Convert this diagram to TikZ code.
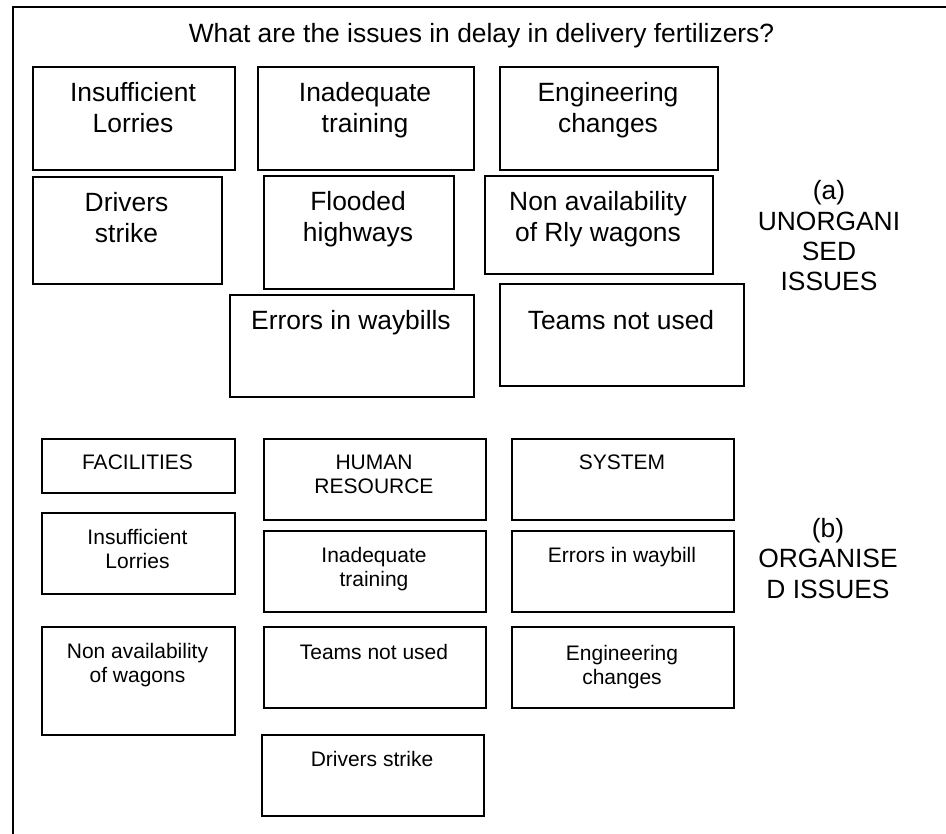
\documentclass[tikz,border=0pt]{standalone}
\usepackage{fontspec}
\setmainfont{Liberation Sans}
\begin{document}
\begin{tikzpicture}[x=1pt,y=-1pt,
  box/.style={draw, line width=1.6pt, inner sep=0pt, anchor=north west},
  frame/.style={draw, line width=1.5pt},
  big/.style={font=\fontsize{26.4}{30.4}\selectfont, align=center, inner sep=0pt, anchor=base},
  small/.style={font=\fontsize{21}{24.2}\selectfont, align=center, inner sep=0pt, anchor=base}]
\useasboundingbox (0,0) rectangle (946,834);
\coordinate (fbl) at (13,834);
\coordinate (ftl) at (13,7);
\coordinate (ftr) at (946,7);
\draw[frame] (fbl) -- (ftl) -- (ftr);

\node[big] (title) at (481.5,43) {What are the issues in delay in delivery fertilizers?};

% (a) unorganised issues (anchor = baseline of last line)
\node[box, minimum width=202, minimum height=103] (il) at (32,66) {};
\node[big] (ilt) at (133,132.4) {Insufficient\\Lorries};
\node[box, minimum width=216, minimum height=103] (it) at (257,66) {};
\node[big] (itt) at (365,132.4) {Inadequate\\training};
\node[box, minimum width=218, minimum height=103] (ec) at (499,66) {};
\node[big] (ect) at (608,132.4) {Engineering\\changes};
\node[box, minimum width=189, minimum height=107] (ds) at (32,176) {};
\node[big] (dst) at (126.5,242.4) {Drivers\\strike};
\node[box, minimum width=190, minimum height=113] (fh) at (263,175) {};
\node[big] (fht) at (358,241.4) {Flooded\\highways};
\node[box, minimum width=228, minimum height=98] (nr) at (484,175) {};
\node[big] (nrt) at (598,241.4) {Non availability\\of Rly wagons};
\node[box, minimum width=244, minimum height=102] (ew) at (229,294) {};
\node[big] (ewt) at (351,330) {Errors in waybills};
\node[box, minimum width=244, minimum height=102] (tn) at (499,283) {};
\node[big] (tnt) at (621,330) {Teams not used};
\node[big] (la) at (829,291) {(a)\\UNORGANI\\SED\\ISSUES};

% (b) organised issues
\node[box, minimum width=193, minimum height=54] (fac) at (41,438) {};
\node[small] (fact) at (137.5,469.5) {FACILITIES};
\node[box, minimum width=193, minimum height=81] (il2) at (41,512) {};
\node[small] (il2t) at (137.5,568.2) {Insufficient\\Lorries};
\node[box, minimum width=193, minimum height=108] (nw) at (41,626) {};
\node[small] (nwt) at (137.5,682.2) {Non availability\\of wagons};
\node[box, minimum width=222, minimum height=81] (hr) at (263,438) {};
\node[small] (hrt) at (374,493.7) {HUMAN\\RESOURCE};
\node[box, minimum width=222, minimum height=81] (it2) at (263,530) {};
\node[small] (it2t) at (374,586.2) {Inadequate\\training};
\node[box, minimum width=222, minimum height=81] (tn2) at (263,626) {};
\node[small] (tn2t) at (374,659) {Teams not used};
\node[box, minimum width=222, minimum height=81] (ds2) at (261,734) {};
\node[small] (ds2t) at (372,766) {Drivers strike};
\node[box, minimum width=222, minimum height=81] (sys) at (511,438) {};
\node[small] (syst) at (622,470) {SYSTEM};
\node[box, minimum width=222, minimum height=81] (ew2) at (511,530) {};
\node[small] (ew2t) at (622,562) {Errors in waybill};
\node[box, minimum width=222, minimum height=81] (ec2) at (511,626) {};
\node[small] (ec2t) at (622,684.2) {Engineering\\changes};
\node[big] (lb) at (828,598) {(b)\\ORGANISE\\D ISSUES};
\end{tikzpicture}
\end{document}
